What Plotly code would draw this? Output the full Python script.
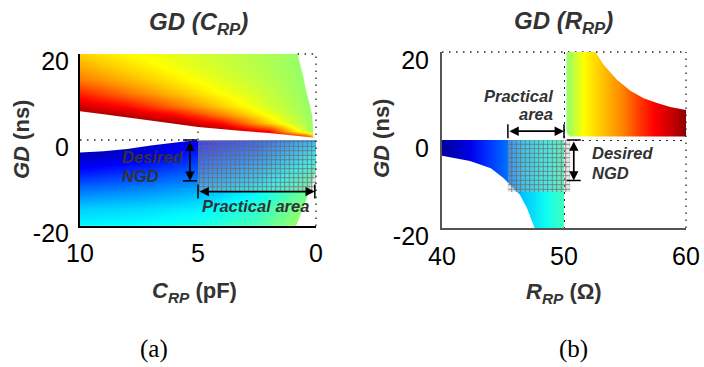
import plotly.graph_objects as go

# ------------------------------------------------------------------ data
# panel (a)  GD versus C_RP
a_xticks = [10, 5, 0]
a_yticks = [-20, 0, 20]
a_yticktext = ['-20', '0', '20']

# colour value (jet scale, 0..1) of the positive-GD surface, sampled on a grid
up_c = [0, 0.5, 1, 2, 4, 6, 8, 10]
up_gd = [0, 2, 4, 6, 8, 11, 14, 17, 20]
up_v = [
    [0.80, 1.00, 1.00, 1.00, 1.00, 1.00, 1.00, 1.00],
    [0.51, 0.58, 0.67, 0.865, 0.975, 0.985, 0.99, 0.99],
    [0.51, 0.55, 0.58, 0.67, 0.865, 0.96, 0.975, 0.98],
    [0.51, 0.537, 0.562, 0.61, 0.74, 0.865, 0.935, 0.97],
    [0.51, 0.531, 0.55, 0.58, 0.67, 0.77, 0.865, 0.92],
    [0.51, 0.525, 0.54, 0.567, 0.62, 0.69, 0.76, 0.84],
    [0.51, 0.521, 0.534, 0.555, 0.595, 0.645, 0.70, 0.755],
    [0.51, 0.519, 0.53, 0.547, 0.578, 0.615, 0.66, 0.71],
    [0.51, 0.518, 0.527, 0.543, 0.57, 0.60, 0.63, 0.67],
]
# colour value of the negative-GD surface
lo_c = [0, 1, 2.5, 5, 7.5, 10]
lo_gd = [-20, -16, -12, -8, -4, -1, 0]
lo_v = [
    [0.55, 0.52, 0.45, 0.40, 0.38, 0.37],
    [0.53, 0.49, 0.42, 0.36, 0.34, 0.33],
    [0.50, 0.45, 0.37, 0.30, 0.27, 0.25],
    [0.45, 0.39, 0.31, 0.23, 0.19, 0.16],
    [0.38, 0.32, 0.24, 0.17, 0.10, 0.07],
    [0.32, 0.27, 0.19, 0.125, 0.055, 0.035],
    [0.30, 0.25, 0.18, 0.12, 0.05, 0.03],
]
# lower edge of the positive-GD surface
ub_c = [10.5, 10, 9, 8, 7.34, 6, 5, 4, 3.1, 2, 1, 0.42, 0.14]
ub_gd = [6.9, 6.7, 6.0, 5.3, 4.8, 3.8, 3.0, 2.6, 2.1, 1.6, 1.1, 0.8, 0.6]
# upper edge of the negative-GD surface
lb_c = [10.5, 10, 9, 8, 7, 6, 5.5, 5, 2.5, 0, -0.5]
lb_gd = [-3.0, -2.9, -2.6, -2.1, -1.3, -0.6, -0.3, -0.1, 0, 0, 0]
# right edge of the positive-GD surface
re_c = [0.78, 0.55, 0.4, 0.25, 0.16, 0.13, 0.12]
re_gd = [20, 15, 11, 8, 5.6, 3, 0.6]
# edge of the empty corner at the bottom right
co_c = [0.85, 0.7, 0.55, 0.42, 0.3, 0.2, 0.12, 0.05, 0]
co_gd = [-20, -18, -16, -14, -12, -10.5, -9, -7.8, -7]
# practical area / desired NGD
a_prac_c = [5, -0.2]
a_prac_gd = [0, -12]
a_ngd_c = 5.34
a_ngd_gd = [0, -9.5]
a_arrow_gd = -12

# panel (b)  GD versus R_RP
b_xticks = [40, 50, 60]
b_yticks = [-20, 0, 20]
b_yticktext = ['-20', '0', '20']
ru_r = [50.2, 50.2, 50.3, 50.55, 60, 60, 58.71, 57.62, 56.53, 55.44, 54.34, 53.25, 52.57, 50.2]
ru_gd = [20, 2.3, 1.2, 0.8, 0.8, 6.8, 7.5, 8.4, 9.5, 11.2, 13.7, 17.1, 20, 20]
ru_cr = [50.2, 50.4, 51.6, 53.3, 54.9, 56.0, 57.4, 58.8, 60]
ru_cv = [0.52, 0.53, 0.625, 0.69, 0.75, 0.81, 0.875, 0.925, 0.99]
rl_r = [40, 50, 50, 47.6, 47.5, 46.97, 46.4, 45.7, 45.06, 44.0, 42.3, 40]
rl_gd = [0, 0, -20, -20, -19.3, -15.5, -12.5, -10.5, -8.7, -6.4, -4.8, -3.6]
rl_cr = [40, 40.4, 42.3, 43.7, 45.5, 46.7, 48.6, 50]
rl_cv = [0.03, 0.04, 0.10, 0.17, 0.24, 0.32, 0.39, 0.44]
b_prac_r = [45.4, 50.5]
b_prac_gd = [0, -11.8]
b_arrow_gd = 2.0
b_ngd_r = 50.8
b_ngd_gd = [0, -9.2]

# ------------------------------------------------------------------ helpers
JET_STOPS = [(0, (0, 0, 128)), (0.125, (0, 0, 255)), (0.375, (0, 255, 255)),
             (0.625, (255, 255, 0)), (0.875, (255, 0, 0)), (1, (128, 0, 0))]
JET = [[p, 'rgb(%d,%d,%d)' % c] for p, c in JET_STOPS]


def jet(v):
    for (p0, c0), (p1, c1) in zip(JET_STOPS, JET_STOPS[1:]):
        if v <= p1:
            t = (v - p0) / (p1 - p0)
            return 'rgb(%d,%d,%d)' % tuple(round(a + (b - a) * t) for a, b in zip(c0, c1))
    return 'rgb(128,0,0)'


def gradient(pos, vals):
    lo, hi = pos[0], pos[-1]
    return [[(p - lo) / (hi - lo), jet(v)] for p, v in zip(pos, vals)]


W, H = 704, 367
def px(x):
    return x / W
def py(y):
    return 1 - y / H

A_DOM_X = [px(80), px(316)]
A_DOM_Y = [py(226), py(54)]
B_DOM_X = [px(442), px(686)]
B_DOM_Y = [py(228), py(52)]

FONT = 'Liberation Sans, Arial, sans-serif'
TXT = '#333333'
DOT = '1.5px,5.5px'

HATCH = dict(shape='+', size=4.5, solidity=0.33, fgcolor='rgb(100,100,100)',
             fgopacity=0.85, bgcolor='rgba(190,190,190,0.35)')

fig = go.Figure()

# ------------------------------------------------------------------ panel (a)
fig.add_trace(go.Heatmap(x=up_c, y=up_gd, z=up_v, colorscale=JET, zmin=0, zmax=1,
                         zsmooth='best', showscale=False, hoverinfo='skip',
                         xaxis='x', yaxis='y'))
fig.add_trace(go.Heatmap(x=lo_c, y=lo_gd, z=lo_v, colorscale=JET, zmin=0, zmax=1,
                         zsmooth='best', showscale=False, hoverinfo='skip',
                         xaxis='x', yaxis='y'))
mask = dict(mode='lines', fill='toself', fillcolor='white',
            line=dict(width=0, color='white'), hoverinfo='skip', xaxis='x', yaxis='y')
# gap between the two surfaces
fig.add_trace(go.Scatter(x=ub_c + [-0.5, -0.5] + lb_c[::-1],
                         y=ub_gd + [ub_gd[-1], 0] + lb_gd[::-1], **mask))
# empty area right of the positive surface
fig.add_trace(go.Scatter(x=[re_c[0] + 0.02] + re_c + [-0.5, -0.5],
                         y=[21] + re_gd + [re_gd[-1], 21], **mask))
# empty corner bottom right
fig.add_trace(go.Scatter(x=[co_c[0] + 0.02] + co_c + [-0.5, -0.5],
                         y=[-21] + co_gd + [co_gd[-1], -21], **mask))
# practical area (hatched)
fig.add_trace(go.Scatter(x=[a_prac_c[0], a_prac_c[1], a_prac_c[1], a_prac_c[0], a_prac_c[0]],
                         y=[a_prac_gd[0], a_prac_gd[0], a_prac_gd[1], a_prac_gd[1], a_prac_gd[0]],
                         mode='lines', fill='toself', fillcolor='rgba(0,0,0,0)',
                         fillpattern=HATCH, line=dict(width=0), hoverinfo='skip',
                         xaxis='x', yaxis='y'))

# ------------------------------------------------------------------ panel (b)
fig.add_trace(go.Scatter(x=ru_r, y=ru_gd, mode='lines', fill='toself',
                         fillgradient=dict(type='horizontal', colorscale=gradient(ru_cr, ru_cv),
                                           start=ru_cr[0], stop=ru_cr[-1]),
                         line=dict(width=0), hoverinfo='skip', xaxis='x2', yaxis='y2'))
fig.add_trace(go.Scatter(x=rl_r, y=rl_gd, mode='lines', fill='toself',
                         fillgradient=dict(type='horizontal', colorscale=gradient(rl_cr, rl_cv),
                                           start=rl_cr[0], stop=rl_cr[-1]),
                         line=dict(width=0), hoverinfo='skip', xaxis='x2', yaxis='y2'))
fig.add_trace(go.Scatter(x=[b_prac_r[0], b_prac_r[1], b_prac_r[1], b_prac_r[0], b_prac_r[0]],
                         y=[b_prac_gd[0], b_prac_gd[0], b_prac_gd[1], b_prac_gd[1], b_prac_gd[0]],
                         mode='lines', fill='toself', fillcolor='rgba(0,0,0,0)',
                         fillpattern=HATCH, line=dict(width=0), hoverinfo='skip',
                         xaxis='x2', yaxis='y2'))

# ------------------------------------------------------------------ axes
tickfont = dict(family=FONT, size=25, color='black')
common = dict(showgrid=True, griddash=DOT, gridcolor='#222', gridwidth=1.3, zeroline=False,
              showline=True, linewidth=2, ticks='', tickfont=tickfont, fixedrange=True,
              automargin=False)
fig.update_layout(
    template='none',
    width=W, height=H, margin=dict(l=0, r=0, t=0, b=0, pad=0, autoexpand=False),
    paper_bgcolor='white', plot_bgcolor='white', showlegend=False,
    xaxis=dict(domain=A_DOM_X, range=[10, 0], tickvals=a_xticks, anchor='y',
               linecolor='black', ticklabelstandoff=4, **common),
    yaxis=dict(domain=A_DOM_Y, range=[-20, 20], tickvals=a_yticks, ticktext=a_yticktext,
               anchor='x', linecolor='black', ticklabelstandoff=4, ticklabelshift=7, **common),
    xaxis2=dict(domain=B_DOM_X, range=[40, 60], tickvals=b_xticks, anchor='y2',
                linecolor='#555', ticklabelstandoff=5, **common),
    yaxis2=dict(domain=B_DOM_Y, range=[-20, 20], tickvals=b_yticks, ticktext=b_yticktext,
                anchor='x2', linecolor='#555', ticklabelstandoff=6, ticklabelshift=8, **common),
)

# ------------------------------------------------------------------ dotted grid pieces visible in the white parts of (a)
dotline = dict(color='#222', width=1.3, dash=DOT)
shapes = [
    dict(type='line', xref='x', yref='paper', x0=re_c[0], x1=0, y0=A_DOM_Y[1], y1=A_DOM_Y[1],
         line=dotline, layer='above'),
    dict(type='line', xref='paper', yref='y', x0=A_DOM_X[1], x1=A_DOM_X[1], y0=-20, y1=20,
         line=dotline, layer='above'),
    dict(type='line', xref='x', yref='y', x0=10, x1=a_prac_c[0], y0=0, y1=0,
         line=dotline, layer='above'),
    dict(type='line', xref='x', yref='y', x0=5, x1=5, y0=0, y1=ub_gd[ub_c.index(5)],
         line=dotline, layer='above'),
    # frame of (b): top and right dotted (hidden under the filled surfaces)
    dict(type='line', xref='x2', yref='paper', x0=40, x1=60, y0=B_DOM_Y[1], y1=B_DOM_Y[1],
         line=dotline, layer='below'),
    dict(type='line', xref='paper', yref='y2', x0=B_DOM_X[1], x1=B_DOM_X[1], y0=-20, y1=20,
         line=dotline, layer='below'),
]

# end bars of the dimension arrows
bar = dict(color='black', width=1.5)
def hbar(xr, yr, xv, yv):
    return dict(type='line', xref=xr, yref=yr, xsizemode='pixel', xanchor=xv, x0=-7, x1=7,
                y0=yv, y1=yv, line=bar, layer='above')
def vbar(xr, yr, xv, yv):
    return dict(type='line', xref=xr, yref=yr, ysizemode='pixel', yanchor=yv, y0=-7, y1=7,
                x0=xv, x1=xv, line=bar, layer='above')

shapes += [
    hbar('x', 'y', a_ngd_c, a_ngd_gd[0]), hbar('x', 'y', a_ngd_c, a_ngd_gd[1]),
    vbar('x', 'y', a_prac_c[0], a_arrow_gd), vbar('x', 'y', 0.05, a_arrow_gd),
    hbar('x2', 'y2', b_ngd_r, b_ngd_gd[0]), hbar('x2', 'y2', b_ngd_r, b_ngd_gd[1]),
    vbar('x2', 'y2', b_prac_r[0], b_arrow_gd), vbar('x2', 'y2', 50.0, b_arrow_gd),
]
fig.update_layout(shapes=shapes)

# ------------------------------------------------------------------ annotations
ann = []
def arrow(xr, yr, x0, y0, x1, y1):
    return dict(xref=xr, yref=yr, axref=xr, ayref=yr, x=x1, y=y1, ax=x0, ay=y0, text='',
                showarrow=True, arrowhead=2, startarrowhead=2, arrowside='end+start',
                arrowsize=1.1, startarrowsize=1.1, arrowwidth=1.7, arrowcolor='black',
                standoff=0, startstandoff=0)

ann += [
    arrow('x', 'y', a_ngd_c, a_ngd_gd[0], a_ngd_c, a_ngd_gd[1]),
    arrow('x', 'y', a_prac_c[0], a_arrow_gd, 0.05, a_arrow_gd),
    arrow('x2', 'y2', b_ngd_r, b_ngd_gd[0], b_ngd_r, b_ngd_gd[1]),
    arrow('x2', 'y2', b_prac_r[0], b_arrow_gd, 50.0, b_arrow_gd),
]

lab = dict(family=FONT, size=16.5, color=TXT, weight='bold', style='italic')
def label(xr, yr, x, y, text, anchor):
    return dict(xref=xr, yref=yr, x=x, y=y, text=text, showarrow=False, font=lab,
                xanchor=anchor, yanchor='middle')

ann += [
    label('x', 'y', 8.3, -3.9, 'Desired', 'left'),
    label('x', 'y', 8.3, -8.3, 'NGD', 'left'),
    label('x', 'y', 2.56, -15.4, 'Practical area', 'center'),
    label('x2', 'y2', 49.25, 10.1, 'Practical', 'right'),
    label('x2', 'y2', 49.25, 6.0, 'area', 'right'),
    label('x2', 'y2', 52.15, -3.0, 'Desired', 'left'),
    label('x2', 'y2', 52.15, -7.6, 'NGD', 'left'),
]

def ptext(x, y, text, size, family=FONT, color=TXT, angle=0):
    return dict(xref='paper', yref='paper', x=px(x), y=py(y), text=text, showarrow=False,
                font=dict(family=family, size=size, color=color), textangle=angle,
                xanchor='center', yanchor='middle')

ann += [
    ptext(198, 24, '<b><i>GD (C<sub>RP</sub>)</i></b>', 24),
    ptext(563, 22, '<b><i>GD (R<sub>RP</sub>)</i></b>', 24),
    ptext(21, 140, '<b><i>GD</i> (ns)</b>', 22, angle=-90),
    ptext(381, 138, '<b><i>GD</i> (ns)</b>', 22, angle=-90),
    ptext(194, 292, '<b><i>C<sub>RP</sub></i> (pF)</b>', 22),
    ptext(564, 293, '<b><i>R<sub>RP</sub></i> (Ω)</b>', 22),
    ptext(154, 349, '(a)', 25, family='Liberation Serif, serif', color='black'),
    ptext(573, 349, '(b)', 25, family='Liberation Serif, serif', color='black'),
]
fig.update_layout(annotations=ann)

fig.write_html('out.html')
